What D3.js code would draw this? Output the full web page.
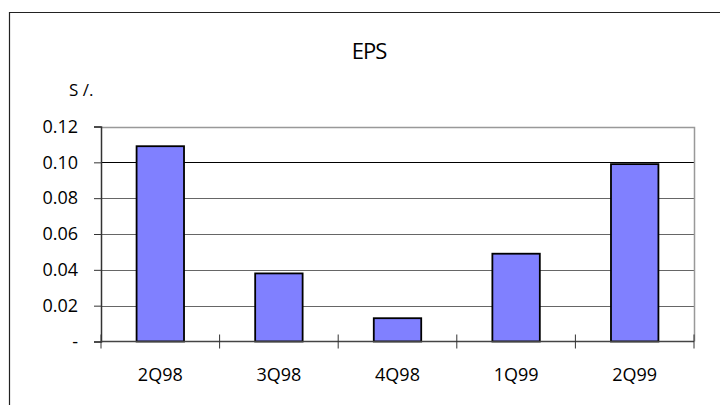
<!DOCTYPE html>
<html><head><meta charset="utf-8">
<script src="https://cdn.jsdelivr.net/npm/d3@7"></script>
<style>body{margin:0;background:#fff}svg{display:block}text{font-family:"Open Sans",Arial,sans-serif;fill:#000}</style>
</head><body>
<svg id="c" width="720" height="405"></svg>
<script>
const categories = ["2Q98","3Q98","4Q98","1Q99","2Q99"];
const values = [0.109,0.038,0.013,0.049,0.099];
const yTicks = [0,0.02,0.04,0.06,0.08,0.10,0.12];
const yTickLabels = ["-","0.02","0.04","0.06","0.08","0.10","0.12"];
const title = "EPS";
const unit = "S /.";

const svg = d3.select("#c");
const L=101, R=694, T=126.5, B=341.5;
const x = d3.scaleBand().domain(categories).range([L,R]).padding(0);
const y = d3.scaleLinear().domain([0,0.12]).range([B,T]);
const FONT = "Open Sans, Arial, sans-serif";

// outer frame
svg.append("path").attr("d","M9.5,410V12.5H720").attr("fill","none").attr("stroke","#222").attr("stroke-width",1.2);

// gridlines
svg.append("g").selectAll("line").data(yTicks.filter(d=>d>0&&d<0.12)).join("line")
  .attr("x1",L).attr("x2",R).attr("y1",d=>Math.round(y(d))+0.5).attr("y2",d=>Math.round(y(d))+0.5)
  .attr("stroke",d=>d===0.10?"#000":"#666").attr("stroke-width",1);

// plot border top/right
svg.append("path").attr("d",`M${L},${Math.round(T)+0.5}H${R+0.5}V${B}`).attr("fill","none").attr("stroke","#999").attr("stroke-width",1.5);

// bars
const bw = x.bandwidth()*0.4;
svg.append("g").selectAll("rect").data(values).join("rect")
  .attr("x",(d,i)=>x(categories[i])+x.bandwidth()/2-bw/2)
  .attr("width",bw)
  .attr("y",d=>y(d))
  .attr("height",d=>B-y(d))
  .attr("fill","#8080ff").attr("stroke","#000").attr("stroke-width",1.8);

// y axis
const ya = svg.append("g").attr("transform",`translate(${L},0)`)
  .call(d3.axisLeft(y).tickValues(yTicks).tickFormat((d,i)=>yTickLabels[i]).tickSize(7).tickPadding(16));
ya.select(".domain").attr("stroke","#333").attr("stroke-width",1.5);
ya.selectAll(".tick line").attr("stroke","#333");
ya.selectAll("text").attr("font-size",18).attr("font-family",FONT).attr("fill","#222");

// x axis
const xa = svg.append("g").attr("transform",`translate(0,${B})`);
xa.append("line").attr("x1",L).attr("x2",R).attr("y1",0).attr("y2",0).attr("stroke","#444").attr("stroke-width",1.5);
const tickPos = categories.map(c=>x(c)).concat([R]);
xa.selectAll("line.t").data(tickPos).join("line").attr("class","t")
  .attr("x1",d=>d).attr("x2",d=>d).attr("y1",-7).attr("y2",7).attr("stroke","#333");
xa.selectAll("text").data(categories).join("text")
  .attr("x",d=>x(d)+x.bandwidth()/2).attr("y",39)
  .attr("text-anchor","middle").attr("font-size",18).attr("fill","#222").text(d=>d);

// title and unit
svg.append("text").attr("x",369).attr("y",59).attr("text-anchor","middle")
  .attr("font-size",22).attr("letter-spacing",-1).text(title);
svg.append("text").attr("x",69).attr("y",96).attr("font-size",17).attr("fill","#222").text(unit);
</script>
</body></html>
